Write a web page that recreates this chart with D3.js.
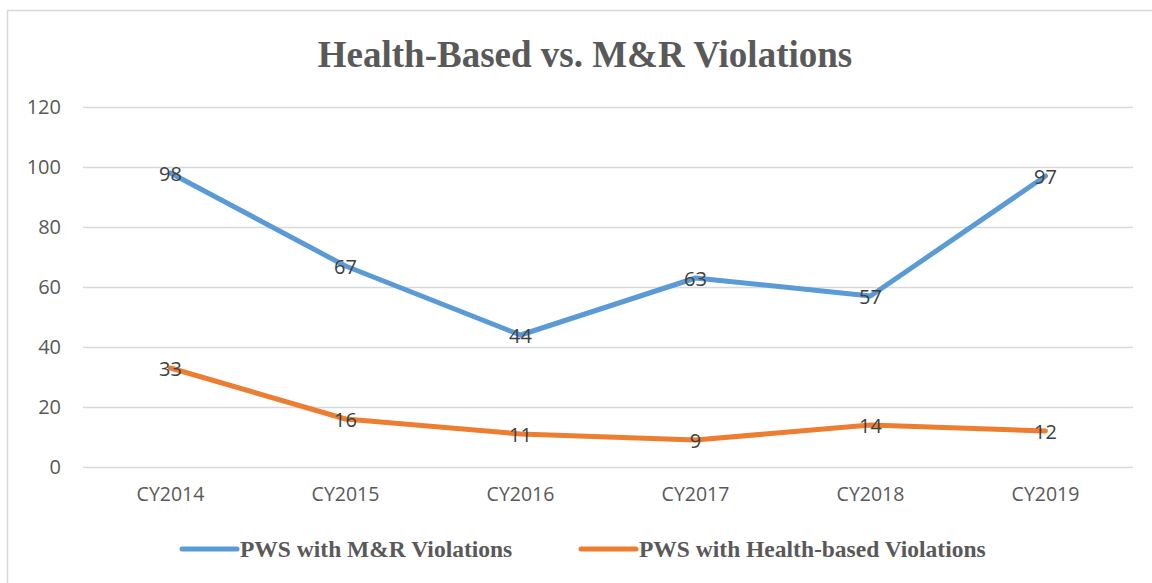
<!DOCTYPE html>
<html><head><meta charset="utf-8">
<script src="https://cdn.jsdelivr.net/npm/d3@7"></script>
<style>body{margin:0;background:#fff;}svg{display:block;}</style>
</head><body>
<svg id="c" width="1152" height="583"></svg>
<script>
const categories = ["CY2014","CY2015","CY2016","CY2017","CY2018","CY2019"];
const mrValues = [98,67,44,63,57,97];
const healthValues = [33,16,11,9,14,12];
const yTicks = [0,20,40,60,80,100,120];
const seriesNames = ["PWS with M&R Violations","PWS with Health-based Violations"];
const colors = ["#5B9BD5","#ED7D31"];

const svg = d3.select("#c");
svg.append("rect").attr("x",7.5).attr("y",10.5).attr("width",1160).attr("height",600)
  .attr("fill","#fff").attr("stroke","#d9d9d9").attr("stroke-width",1.5);

const plotLeft=83, plotRight=1133, plotTop=107, plotBottom=467;
const x = d3.scaleBand().domain(categories).range([plotLeft,plotRight]);
const y = d3.scaleLinear().domain([0,120]).range([plotBottom,plotTop]);

svg.append("text").attr("x",585).attr("y",67).attr("text-anchor","middle")
  .attr("font-family","Liberation Serif, Times New Roman, serif").attr("font-weight","bold")
  .attr("font-size",37).attr("fill","#595959").text("Health-Based vs. M&R Violations");

const yAxis = svg.append("g").attr("transform",`translate(${plotLeft},0)`)
  .call(d3.axisLeft(y).tickValues(yTicks).tickSize(-(plotRight-plotLeft)).tickPadding(22));
yAxis.select(".domain").remove();
yAxis.selectAll("line").attr("stroke","#d9d9d9").attr("stroke-width",1.5);
yAxis.selectAll("text").attr("font-family","Open Sans, sans-serif").attr("font-size",20).attr("fill","#595959");

const xAxis = svg.append("g").attr("transform",`translate(0,${plotBottom})`)
  .call(d3.axisBottom(x).tickSize(0).tickPadding(20));
xAxis.select(".domain").remove();
xAxis.selectAll("text").attr("font-family","Open Sans, sans-serif").attr("font-size",19.5).attr("fill","#595959");

const cx = d => x(d)+x.bandwidth()/2;
const data = [mrValues, healthValues];
const line = d3.line().x((v,i)=>cx(categories[i])).y(v=>y(v));
data.forEach((vals,k)=>{
  svg.append("path").datum(vals).attr("d",line).attr("fill","none")
    .attr("stroke",colors[k]).attr("stroke-width",5).attr("stroke-linejoin","round").attr("stroke-linecap","round");
});
data.forEach((vals)=>{
  svg.append("g").selectAll("text").data(vals).join("text")
    .attr("x",(v,i)=>cx(categories[i])).attr("y",v=>y(v)).attr("dy","0.38em")
    .attr("text-anchor","middle").attr("font-family","Open Sans, sans-serif").attr("font-size",20)
    .attr("fill","#404040").text(v=>v);
});

const legendX = [182, 581];
seriesNames.forEach((n,k)=>{
  const g = svg.append("g").attr("transform",`translate(${legendX[k]},549)`);
  g.append("line").attr("x1",0).attr("x2",55).attr("y1",0).attr("y2",0)
    .attr("stroke",colors[k]).attr("stroke-width",5).attr("stroke-linecap","round");
  g.append("text").attr("x",58).attr("y",7.5).attr("font-family","Liberation Serif, Times New Roman, serif")
    .attr("font-weight","bold").attr("font-size",23.5).attr("fill","#595959").text(n);
});
</script>
</body></html>
